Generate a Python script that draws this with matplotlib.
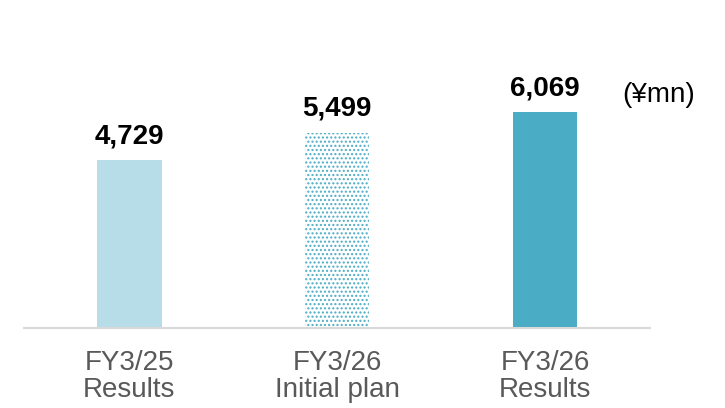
import matplotlib.pyplot as plt

plt.rcParams['font.family'] = ['Liberation Sans', 'DejaVu Sans']

# data
categories = ['FY3/25\nResults', 'FY3/26\nInitial plan', 'FY3/26\nResults']
values = [4729, 5499, 6069]
labels = ['4,729', '5,499', '6,069']

fig = plt.figure(figsize=(7.25, 4.08), dpi=100)
ax = fig.add_axes([24 / 725, 1 - 328 / 408, 626 / 725, 328 / 408])

x = range(len(values))
bars = ax.bar(x, values, width=0.31, color=['#b6dde8', 'white', '#4bacc6'], linewidth=0)
# planned bar: dotted fill
plt.rcParams['hatch.linewidth'] = 1.2
bars[1].set_hatch('....')
bars[1].set_edgecolor('#4bacc6')
bars[1].set_linewidth(0)

for b, lab in zip(bars, labels):
    ax.annotate(lab, xy=(b.get_x() + b.get_width() / 2, b.get_height()),
                xytext=(0, 12), textcoords='offset points',
                ha='center', va='baseline', fontsize=20, fontweight='bold', color='black')

ax.set_xlim(-0.507, 2.505)
ax.set_ylim(0, 9230)
ax.set_xticks(list(x))
ax.set_xticklabels(categories, fontsize=20, color='#595959', linespacing=1.05)
ax.tick_params(axis='x', length=0, pad=16)
ax.set_yticks([])
for s in ['top', 'right', 'left']:
    ax.spines[s].set_visible(False)
ax.spines['bottom'].set_color('#d9d9d9')
ax.spines['bottom'].set_linewidth(1.5)

fig.text(622 / 725, 1 - 102 / 408, '(¥mn)', fontsize=20, color='black', ha='left', va='baseline')

fig.savefig('out.png', dpi=100)
